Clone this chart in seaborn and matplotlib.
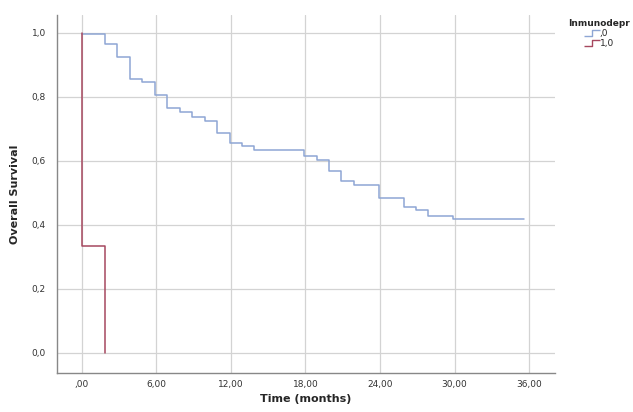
import seaborn as sns
import matplotlib.pyplot as plt
import pandas as pd
from matplotlib.path import Path
from matplotlib.lines import Line2D

# Kaplan-Meier step points (start of each level)
times_0 = [0, 1.87, 2.87, 3.9, 4.87, 5.87, 6.86, 7.88, 8.9, 9.89, 10.88, 11.9,
           12.9, 13.9, 17.87, 18.9, 19.9, 20.9, 21.9, 23.9, 25.9, 26.9, 27.9,
           29.9, 35.6]
surv_0 = [0.995, 0.966, 0.924, 0.856, 0.846, 0.804, 0.765, 0.754, 0.736, 0.725,
          0.686, 0.657, 0.645, 0.633, 0.616, 0.603, 0.567, 0.537, 0.524, 0.483,
          0.457, 0.445, 0.428, 0.418, 0.418]
times_1 = [0, 0, 1.87]
surv_1 = [1.0, 0.333, 0.0]
groups = [",0", "1,0"]
colors = {",0": "#8ea6d4", "1,0": "#a6485f"}

df = pd.concat([
    pd.DataFrame({"t": times_0, "s": surv_0, "Inmunodepr": groups[0]}),
    pd.DataFrame({"t": times_1, "s": surv_1, "Inmunodepr": groups[1]}),
])

sns.set_style("white")
fig = plt.figure(figsize=(6.33, 4.12), dpi=100)
ax = fig.add_axes([0.090, 0.095, 0.787, 0.869])

sns.lineplot(data=df, x="t", y="s", hue="Inmunodepr", palette=colors,
             estimator=None, sort=False, drawstyle="steps-post",
             linewidth=1.1, legend=False, ax=ax)

ax.set_xlim(-2.0, 38.1)
ax.set_ylim(-0.0625, 1.056)
xt = [0, 6, 12, 18, 24, 30, 36]
ax.set_xticks(xt)
ax.set_xticklabels([",00"] + [f"{v},00" for v in xt[1:]], fontsize=6.5, color="#333333")
yt = [0, 0.2, 0.4, 0.6, 0.8, 1.0]
ax.set_yticks(yt)
ax.set_yticklabels([f"{v:.1f}".replace(".", ",") for v in yt], fontsize=6.5, color="#333333")
ax.tick_params(axis="x", length=0, pad=5)
ax.tick_params(axis="y", length=0, pad=8)
ax.grid(True, color="#d3d3d3", linewidth=0.9)
ax.set_axisbelow(True)
for side in ["top", "right"]:
    ax.spines[side].set_visible(False)
for side in ["left", "bottom"]:
    ax.spines[side].set_color("#888888")
    ax.spines[side].set_linewidth(1.0)

ax.set_xlabel("Time (months)", fontsize=8, fontweight="bold", labelpad=4)
ax.set_ylabel("Overall Survival", fontsize=8, fontweight="bold", labelpad=8)

step = Path([(-1, -0.35), (0, -0.35), (0, 0.35), (1, 0.35)])
handles = [Line2D([], [], linestyle="none", marker=step, markersize=11,
                  markerfacecolor="none", markeredgecolor=colors[g],
                  markeredgewidth=1.0) for g in groups]
leg = ax.legend(handles, groups, title="Inmunodepr", loc="upper left",
                bbox_to_anchor=(1.01, 1.01), frameon=False, fontsize=6.5,
                title_fontproperties={"weight": "bold", "size": 6.5},
                handlelength=1.6, handletextpad=0.1, labelspacing=0.1)

fig.savefig("out.png", dpi=100)
